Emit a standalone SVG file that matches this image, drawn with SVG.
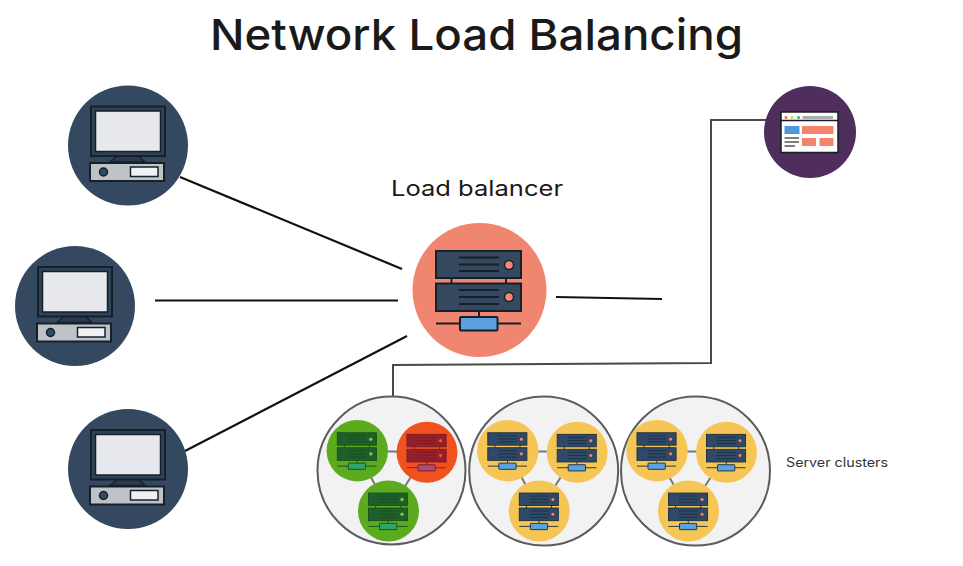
<svg xmlns="http://www.w3.org/2000/svg" xmlns:xlink="http://www.w3.org/1999/xlink" width="963" height="566" viewBox="0 0 963 566">
<style>
text{font-family:Inter,"Open Sans","Liberation Sans",sans-serif;fill:#1a1a1a}
.wire{fill:none;stroke:#111;stroke-width:2.2}
.route{fill:none;stroke:#4a4a4a;stroke-width:2}
.cluster{fill:#f2f2f3;stroke:#5c5c5e;stroke-width:2}
.link{stroke:#77787c;stroke-width:2}
.rack{fill:var(--rack);stroke:var(--ink);stroke-width:2}
.bar{fill:none;stroke:var(--ink);stroke-width:2}
.dot{fill:var(--dot);stroke:var(--ink);stroke-width:1.5}
.box{fill:var(--box);stroke:var(--ink);stroke-width:2}
.green{--rack:#1f5f2c;--ink:#17511f;--dot:#8ccb45;--box:#2fa56c}
.red{--rack:#93202b;--ink:#7f1a22;--dot:#ee5a3a;--box:#ab4d74}
.yellow{--rack:#2f4a69;--ink:#1e2e3e;--dot:#ee8370;--box:#5aa3e0}
.salmon{--rack:#34495f;--ink:#14202c;--dot:#f58a70;--box:#5ba1dc}
</style>
<defs>
<g id="server">
<rect class="rack" x="-43.5" y="-39" width="85" height="27"/>
<rect class="rack" x="-43.5" y="-6.5" width="85" height="27.5"/>
<path class="bar" d="M-28-12V-6.5M26.5-12V-6.5M-20.500-32.500H19.500M-20.500-25.500H19.500M-20.500-19H19.500M-20.500 0H19.500M-20.500 7H19.500M-20.500 14H19.500M-0.500 21V27M-43.500 33.500H41.500"/>
<circle class="dot" cx="29.500" cy="-25" r="4.500"/>
<circle class="dot" cx="29.500" cy="7" r="4.500"/>
<rect class="box" x="-19.500" y="27" width="37.500" height="13.500" rx="1"/>
</g>
<g id="pc">
<circle r="60" fill="#34495f"/>
<path d="M-10 10H10L17 16.500H-18Z" fill="#2b3a4e" stroke="#14202c" stroke-width="1.500"/>
<rect x="-37" y="-39" width="74" height="49.500" fill="#2f4256" stroke="#14202c" stroke-width="2"/>
<rect x="-32.500" y="-34.500" width="65" height="40.500" fill="#e8e9ee" stroke="#14202c" stroke-width="1.500"/>
<rect x="-38" y="17.500" width="74" height="18" fill="#bfc2c6" stroke="#14202c" stroke-width="2"/>
<circle cx="-24.500" cy="26.500" r="4" fill="#34495f" stroke="#14202c" stroke-width="1.500"/>
<rect x="2.500" y="21.500" width="27.500" height="9.500" fill="#f0f0f2" stroke="#14202c" stroke-width="1.500"/>
</g>
</defs>
<rect width="963" height="566" fill="#fff"/>
<text id="title" x="476.500" y="50" font-size="43" font-weight="500" text-anchor="middle" textLength="533" lengthAdjust="spacingAndGlyphs">Network Load Balancing</text>
<g id="connectors">
<path class="wire" d="M180 177L402 269"/>
<path class="wire" d="M155 300.500H398"/>
<path class="wire" d="M185 451L407 336"/>
<path class="wire" d="M556 297L662 299"/>
<path class="route" d="M393 396V365L711 363V120H766"/>
</g>
<g id="client-1" transform="translate(128 145.500)"><use href="#pc"/></g>
<g id="client-2" transform="translate(75 306)"><use href="#pc"/></g>
<g id="client-3" transform="translate(128 469)"><use href="#pc"/></g>
<g id="load-balancer" class="salmon">
<circle cx="479.500" cy="290" r="67" fill="#f0866f"/>
<use href="#server" transform="translate(479.500 290)"/>
<text x="477" y="196" font-size="21.500" text-anchor="middle" textLength="172" lengthAdjust="spacingAndGlyphs">Load balancer</text>
</g>
<g id="web-app">
<circle cx="810" cy="132" r="46" fill="#4f2d5c"/>
<rect x="781" y="112" width="57" height="40.500" fill="#fff" stroke="#1b1b25" stroke-width="1.500"/>
<path d="M781 120.500H838" stroke="#1b1b25" stroke-width="1.500"/>
<circle cx="786" cy="117.500" r="1.500" fill="#ec6a5a"/>
<circle cx="792" cy="117.500" r="1.500" fill="#f2c14e"/>
<circle cx="798.500" cy="117.500" r="1.500" fill="#3aa890"/>
<rect x="802.500" y="116" width="30.500" height="3" fill="#a9adb2"/>
<rect x="784.500" y="126" width="15" height="8" fill="#4f97dc"/>
<rect x="802" y="126" width="31.500" height="8" fill="#f4846d"/>
<rect x="802" y="138" width="14" height="8" fill="#f4846d"/>
<rect x="819.500" y="138" width="14" height="8" fill="#f4846d"/>
<path d="M784.500 138H799M784.500 142H799M784.500 146H795" stroke="#555" stroke-width="1.500"/>
</g>
<g id="cluster-1">
<circle class="cluster" cx="391.500" cy="470.500" r="74"/>
<path class="link" d="M357 451L427 452M357 451L389 511M427 452L389 511"/>
<circle cx="357.300" cy="450.700" r="30.700" fill="#5cab1e"/>
<circle cx="427" cy="452.300" r="30.500" fill="#f0521f"/>
<circle cx="388.500" cy="511" r="30.500" fill="#5cab1e"/>
<use href="#server" class="green" transform="translate(357.300 450.700) scale(.46)"/>
<use href="#server" class="red" transform="translate(427 452.300) scale(.46)"/>
<use href="#server" class="green" transform="translate(388.500 511) scale(.46)"/>
</g>
<g id="cluster-2">
<circle class="cluster" cx="543.700" cy="471" r="74.500"/>
<path class="link" d="M508 451L577 452M508 451L539 511M577 452L539 511"/>
<circle cx="507.800" cy="450.700" r="30.700" fill="#f5c655"/>
<circle cx="577.200" cy="452.300" r="30.500" fill="#f5c655"/>
<circle cx="539.300" cy="511" r="30.500" fill="#f5c655"/>
<use href="#server" class="yellow" transform="translate(507.800 450.700) scale(.46)"/>
<use href="#server" class="yellow" transform="translate(577.200 452.300) scale(.46)"/>
<use href="#server" class="yellow" transform="translate(539.300 511) scale(.46)"/>
</g>
<g id="cluster-3">
<circle class="cluster" cx="695.500" cy="471" r="74.500"/>
<path class="link" d="M654 451L727 452M654 451L689 511M727 452L689 511"/>
<circle cx="657" cy="450.700" r="30.700" fill="#f5c655"/>
<circle cx="726.500" cy="452.300" r="30.500" fill="#f5c655"/>
<circle cx="688.500" cy="511" r="30.500" fill="#f5c655"/>
<use href="#server" class="yellow" transform="translate(657 450.700) scale(.46)"/>
<use href="#server" class="yellow" transform="translate(726.500 452.300) scale(.46)"/>
<use href="#server" class="yellow" transform="translate(688.500 511) scale(.46)"/>
</g>
<text id="clusters-label" x="786" y="467" font-size="12.500" style="fill:#333" textLength="102" lengthAdjust="spacingAndGlyphs">Server clusters</text>
</svg>
